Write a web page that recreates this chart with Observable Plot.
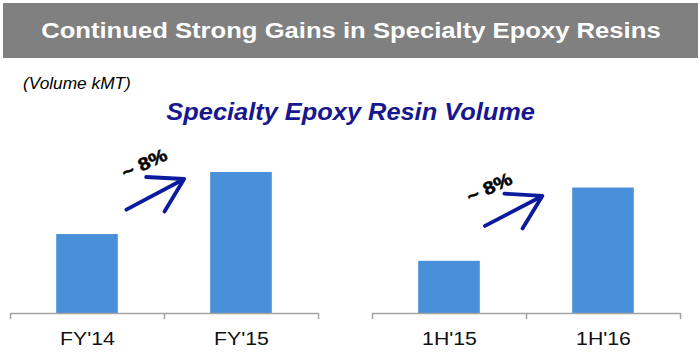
<!DOCTYPE html>
<html>
<head>
<meta charset="utf-8">
<script src="https://cdn.jsdelivr.net/npm/d3@7"></script>
<script src="https://cdn.jsdelivr.net/npm/@observablehq/plot@0.6"></script>
<style>
  body { margin: 0; width: 700px; height: 359px; position: relative; background: #fff; overflow: hidden;
         font-family: "Liberation Sans", Arial, Helvetica, sans-serif; }
  .stretch { display: inline-block; white-space: nowrap; }
  #titlebar { position: absolute; left: 3px; top: 3px; width: 695px; height: 55px; background: #808080;
              color: #fff; font-weight: bold; font-size: 22px; line-height: 55px; text-align: center; }
  #titlebar .stretch { transform: scaleX(1.165); }
  #unit { position: absolute; left: 23px; top: 76px; font-size: 16px; font-style: italic; line-height: 1; color: #000; }
  #unit .stretch { transform: scaleX(1.08); transform-origin: left center; }
  #subtitle { position: absolute; left: 0; width: 702px; top: 100.5px; text-align: center; font-size: 23.5px;
              font-weight: bold; font-style: italic; color: #17178f; line-height: 1; }
  #subtitle .stretch { transform: scaleX(1.08); }
  #left { position: absolute; left: 0; top: 130px; }
  #right { position: absolute; left: 350px; top: 130px; }
</style>
</head>
<body>
<div id="titlebar"><span class="stretch">Continued Strong Gains in Specialty Epoxy Resins</span></div>
<div id="unit"><span class="stretch">(Volume kMT)</span></div>
<div id="subtitle"><span class="stretch">Specialty Epoxy Resin Volume</span></div>
<div id="left"></div>
<div id="right"></div>
<script>
// ---- data (relative volume, FY'15 = 100) ----
const annualPeriods = ["FY'14", "FY'15"];
const annualVolume = [56, 100];
const halfPeriods = ["1H'15", "1H'16"];
const halfVolume = [37, 89];
const growthLabel = "~ 8%";
// growth-arrow annotation ends, in volume units at the two bar centres
const annualArrowY = [59, 117];
const halfArrowY = [49, 106];
// growth-label anchor, in volume units
const annualLabelY = 106;
const halfLabelY = 89;

const barColor = "#4a8fd9";
const arrowColor = "#0c1a9e";
const axisColor = "#a3a3a3";

function panel({periods, volume, arrowY, labelY, labelDx, insetStart, insetEnd, marginLeft, marginRight}) {
  const rows = periods.map((p, i) => ({period: p, volume: volume[i]}));
  const width = 350;
  const half = (width - marginLeft - marginRight) / 4; // half a band step
  return Plot.plot({
    width, height: 229,
    marginLeft, marginRight, marginTop: 42, marginBottom: 46,
    x: {domain: periods, paddingInner: 0.6, paddingOuter: 0.3, round: false, axis: null},
    y: {domain: [0, 100], axis: null},
    style: {fontFamily: '"Liberation Sans", Arial, sans-serif', background: "transparent", overflow: "visible"},
    marks: [
      Plot.barY(rows, {x: "period", y: "volume", fill: barColor}),
      Plot.ruleY([0], {stroke: axisColor, strokeWidth: 1.6}),
      Plot.ruleX([periods[0]], {x: d => d, y1: 0, y2: -4.3, dx: -half, stroke: axisColor, strokeWidth: 1.5}),
      Plot.ruleX(periods, {x: d => d, y1: 0, y2: -4.3, dx: half, stroke: axisColor, strokeWidth: 1.5}),
      Plot.text(periods, {x: d => d, y: 0, text: d => d, lineAnchor: "top", dy: 18.5, fontSize: 18.5, fill: "#111"}),
      Plot.arrow([growthLabel], {
        x1: () => periods[0], y1: () => arrowY[0],
        x2: () => periods[1], y2: () => arrowY[1],
        insetStart, insetEnd, bend: 0,
        stroke: arrowColor, strokeWidth: 3.8, headLength: 15, headAngle: 62
      }),
      Plot.text([growthLabel], {x: () => periods[0], y: () => labelY, text: d => d, dx: labelDx,
        rotate: -25, fontSize: 18, fontWeight: "bold", fill: "#000", stroke: "#000", strokeWidth: 0.5})
    ]
  });
}

// horizontally stretch every label (the source slide is widened)
function stretchText(svg) {
  svg.querySelectorAll("text").forEach(t => {
    const tr = t.getAttribute("transform") || "";
    t.setAttribute("transform", `${tr} scale(1.15,1)`);
  });
  return svg;
}

document.getElementById("left").append(stretchText(panel({
  periods: annualPeriods, volume: annualVolume, arrowY: annualArrowY, labelY: annualLabelY, labelDx: 57,
  insetStart: 44, insetEnd: 65, marginLeft: 10, marginRight: 32
})));
document.getElementById("right").append(stretchText(panel({
  periods: halfPeriods, volume: halfVolume, arrowY: halfArrowY, labelY: halfLabelY, labelDx: 40,
  insetStart: 40, insetEnd: 69, marginLeft: 22, marginRight: 20
})));
</script>
</body>
</html>
